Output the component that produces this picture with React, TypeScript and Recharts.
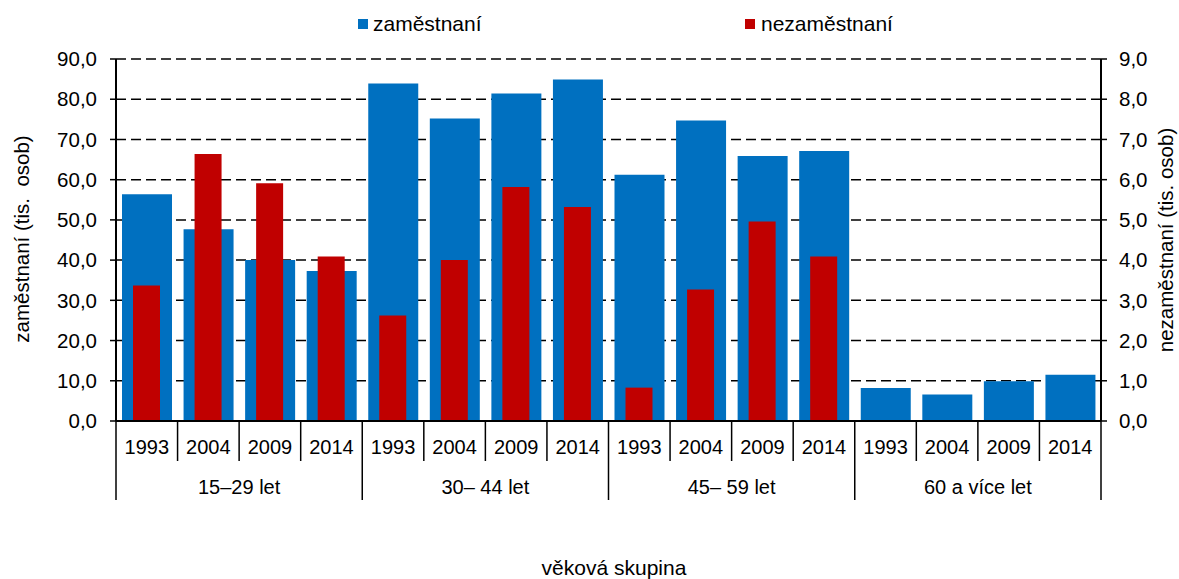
import { BarChart, Bar, XAxis, YAxis, CartesianGrid } from 'recharts'

const years = ['1993', '2004', '2009', '2014']
const groups = ['15–29 let', '30– 44 let', '45– 59 let', '60 a více let']

// thousands of persons
const zamestnani = [56.4, 47.7, 40.0, 37.3, 83.9, 75.2, 81.4, 84.9, 61.2, 74.7, 65.9, 67.1, 8.2, 6.6, 9.9, 11.5]
const nezamestnani = [3.37, 6.64, 5.91, 4.09, 2.62, 4.0, 5.82, 5.32, 0.83, 3.27, 4.96, 4.09, null, null, null, null]

const leftTicks = [0, 10, 20, 30, 40, 50, 60, 70, 80, 90]
const rightTicks = [0, 1, 2, 3, 4, 5, 6, 7, 8, 9]

const BLUE = '#0070C0'
const RED = '#C00000'
const FONT = '"Liberation Sans", Arial, sans-serif'

const data = zamestnani.map((z, i) => ({
  key: `${groups[Math.floor(i / 4)]}|${years[i % 4]}`,
  year: years[i % 4],
  group: groups[Math.floor(i / 4)],
  zam: z,
  nez: nezamestnani[i],
}))

const fmt = (v: number) => v.toFixed(1).replace('.', ',')

function CategoryTick(props: any) {
  const { x, y, index, payload } = props
  const half = payload && payload.offset ? payload.offset : 30.78
  const row = data[index]
  const isGroupStart = index % 4 === 0
  return (
    <g>
      <line x1={x - half} x2={x - half} y1={y} y2={y + (isGroupStart ? 79 : 40)} stroke="#000" strokeWidth={1.5} />
      {index === data.length - 1 && (
        <line x1={x + half} x2={x + half} y1={y} y2={y + 79} stroke="#000" strokeWidth={1.5} />
      )}
      <text x={x} y={y + 33} textAnchor="middle" fontSize={20} fontFamily={FONT} fill="#000">
        {row.year}
      </text>
      {index % 4 === 1 && (
        <text x={x + half} y={y + 73} textAnchor="middle" fontSize={20} fontFamily={FONT} fill="#000">
          {row.group}
        </text>
      )}
    </g>
  )
}

export default function App() {
  return (
    <div style={{ position: 'absolute', left: 0, top: 0, width: 1179, height: 579, background: '#fff' }}>
      <BarChart
        width={1179}
        height={579}
        data={data}
        margin={{ top: 59, right: 0, bottom: 58, left: 0 }}
      >
        <CartesianGrid vertical={false} stroke="#000" strokeWidth={1.5} strokeDasharray="10 5" />
        <XAxis
          dataKey="key"
          interval={0}
          height={100}
          tickSize={0}
          tickMargin={0}
          tickLine={false}
          axisLine={{ stroke: '#000', strokeWidth: 2 }}
          tick={<CategoryTick />}
        />
        <XAxis xAxisId="r" dataKey="key" hide />
        <YAxis
          width={116}
          domain={[0, 90]}
          ticks={leftTicks}
          interval={0}
          tickFormatter={fmt}
          tickSize={6}
          tickMargin={13}
          axisLine={{ stroke: '#000', strokeWidth: 2 }}
          tickLine={{ stroke: '#000', strokeWidth: 1.5 }}
          tick={{ fill: '#000', fontSize: 20.5, fontFamily: FONT }}
        />
        <YAxis
          yAxisId="right"
          orientation="right"
          width={78}
          domain={[0, 9]}
          ticks={rightTicks}
          interval={0}
          tickFormatter={fmt}
          tickSize={6}
          tickMargin={12}
          axisLine={{ stroke: '#000', strokeWidth: 2 }}
          tickLine={{ stroke: '#000', strokeWidth: 1.5 }}
          tick={{ fill: '#000', fontSize: 20.5, fontFamily: FONT }}
        />
        <Bar dataKey="zam" fill={BLUE} barSize={50} isAnimationActive={false} />
        <Bar dataKey="nez" xAxisId="r" yAxisId="right" fill={RED} barSize={27} isAnimationActive={false} />
      </BarChart>

      {/* legend + axis titles */}
      <svg
        width={1179}
        height={579}
        style={{ position: 'absolute', left: 0, top: 0, pointerEvents: 'none' }}
        fontFamily={FONT}
      >
        <rect x={358} y={19} width={10} height={10} fill={BLUE} />
        <text x={373} y={31} fontSize={21} fill="#000">zaměstnaní</text>
        <rect x={745} y={19} width={10} height={10} fill={RED} />
        <text x={761} y={31} fontSize={21} fill="#000">nezaměstnaní</text>

        <text
          transform="translate(22 239) rotate(-90)"
          textAnchor="middle"
          dy="0.35em"
          fontSize={20.5}
          fill="#000"
          style={{ whiteSpace: 'pre' }}
        >
          {'zaměstnaní (tis.  osob)'}
        </text>
        <text
          transform="translate(1166 240) rotate(-90)"
          textAnchor="middle"
          dy="0.35em"
          fontSize={20.5}
          fill="#000"
          style={{ whiteSpace: 'pre' }}
        >
          {'nezaměstnaní (tis. osob)'}
        </text>
        <text x={614} y={575} textAnchor="middle" fontSize={21} fill="#000">
          věková skupina
        </text>
      </svg>
    </div>
  )
}
